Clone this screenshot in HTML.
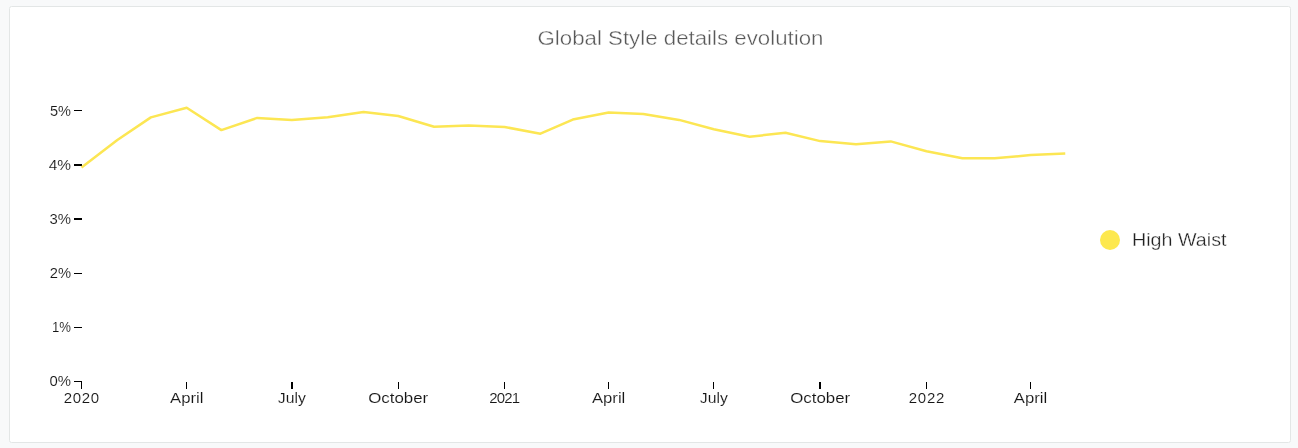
<!DOCTYPE html>
<html><head><meta charset="utf-8"><style>
html,body{margin:0;padding:0;background:#f8f9fa;width:1298px;height:448px;overflow:hidden}
svg{display:block;will-change:transform;font-family:"Liberation Sans",sans-serif}
</style></head><body>
<svg width="1298" height="448" viewBox="0 0 1298 448">
<rect x="9.5" y="6.5" width="1281" height="436" rx="2" ry="2" fill="#ffffff" stroke="#e3e6e6" stroke-width="1"/>
<text x="680.5" y="45" text-anchor="middle" font-size="20" fill="#585858" stroke="#fff" stroke-width="0.35" textLength="286" lengthAdjust="spacingAndGlyphs">Global Style details evolution</text>
<rect x="74" y="381" width="8" height="1" fill="#000"/>
<text x="71" y="385.5" text-anchor="end" font-size="15" fill="#151515" stroke="#fff" stroke-width="0.12" textLength="21.5" lengthAdjust="spacingAndGlyphs">0%</text>
<rect x="74" y="327" width="8" height="1" fill="#000"/>
<text x="71" y="331.5" text-anchor="end" font-size="15" fill="#151515" stroke="#fff" stroke-width="0.12" textLength="19" lengthAdjust="spacingAndGlyphs">1%</text>
<rect x="74" y="273" width="8" height="1" fill="#000"/>
<text x="71" y="277.5" text-anchor="end" font-size="15" fill="#151515" stroke="#fff" stroke-width="0.12" textLength="21.3" lengthAdjust="spacingAndGlyphs">2%</text>
<rect x="74" y="218" width="8" height="2" fill="#000"/>
<text x="71" y="223.5" text-anchor="end" font-size="15" fill="#151515" stroke="#fff" stroke-width="0.12" textLength="21.5" lengthAdjust="spacingAndGlyphs">3%</text>
<rect x="74" y="164" width="8" height="2" fill="#000"/>
<text x="71" y="169.5" text-anchor="end" font-size="15" fill="#151515" stroke="#fff" stroke-width="0.12" textLength="22.3" lengthAdjust="spacingAndGlyphs">4%</text>
<rect x="74" y="110" width="8" height="1" fill="#000"/>
<text x="71" y="115.5" text-anchor="end" font-size="15" fill="#151515" stroke="#fff" stroke-width="0.12" textLength="21" lengthAdjust="spacingAndGlyphs">5%</text>
<rect x="81" y="382" width="1" height="7" fill="#000"/>
<text x="81.50" y="403" text-anchor="middle" font-size="15" fill="#151515" stroke="#fff" stroke-width="0.12" textLength="35.4" lengthAdjust="spacing">2020</text>
<rect x="186" y="382" width="1" height="7" fill="#000"/>
<text x="186.70" y="403" text-anchor="middle" font-size="15" fill="#151515" stroke="#fff" stroke-width="0.12" textLength="33.4" lengthAdjust="spacingAndGlyphs">April</text>
<rect x="291" y="382" width="2" height="7" fill="#000"/>
<text x="291.89" y="403" text-anchor="middle" font-size="15" fill="#151515" stroke="#fff" stroke-width="0.12" textLength="28" lengthAdjust="spacingAndGlyphs">July</text>
<rect x="398" y="382" width="1" height="7" fill="#000"/>
<text x="398.24" y="403" text-anchor="middle" font-size="15" fill="#151515" stroke="#fff" stroke-width="0.12" textLength="60" lengthAdjust="spacingAndGlyphs">October</text>
<rect x="504" y="382" width="1" height="7" fill="#000"/>
<text x="504.60" y="403" text-anchor="middle" font-size="15" fill="#151515" stroke="#fff" stroke-width="0.12" textLength="30.8" lengthAdjust="spacing">2021</text>
<rect x="608" y="382" width="1" height="7" fill="#000"/>
<text x="608.64" y="403" text-anchor="middle" font-size="15" fill="#151515" stroke="#fff" stroke-width="0.12" textLength="33.4" lengthAdjust="spacingAndGlyphs">April</text>
<rect x="713" y="382" width="1" height="7" fill="#000"/>
<text x="713.83" y="403" text-anchor="middle" font-size="15" fill="#151515" stroke="#fff" stroke-width="0.12" textLength="28" lengthAdjust="spacingAndGlyphs">July</text>
<rect x="819" y="382" width="2" height="7" fill="#000"/>
<text x="820.18" y="403" text-anchor="middle" font-size="15" fill="#151515" stroke="#fff" stroke-width="0.12" textLength="60" lengthAdjust="spacingAndGlyphs">October</text>
<rect x="926" y="382" width="1" height="7" fill="#000"/>
<text x="926.54" y="403" text-anchor="middle" font-size="15" fill="#151515" stroke="#fff" stroke-width="0.12" textLength="35.4" lengthAdjust="spacing">2022</text>
<rect x="1030" y="382" width="1" height="7" fill="#000"/>
<text x="1030.58" y="403" text-anchor="middle" font-size="15" fill="#151515" stroke="#fff" stroke-width="0.12" textLength="33.4" lengthAdjust="spacingAndGlyphs">April</text>
<path d="M81.50,167.40L117.34,140.00L150.86,117.40L186.70,107.70L221.38,130.10L257.21,117.90L291.89,119.90L327.73,117.30L363.56,112.10L398.24,116.00L434.08,126.70L468.76,125.40L504.60,127.00L540.43,133.70L572.80,119.60L608.64,112.60L643.32,114.00L679.15,119.90L713.83,129.30L749.67,136.70L785.50,132.80L820.18,141.10L856.02,144.20L890.70,141.40L926.54,151.20L962.37,158.30L994.74,158.30L1030.58,155.10L1065.26,153.60" fill="none" stroke="#fce653" stroke-width="2.5" stroke-linejoin="round"/>
<circle cx="1110" cy="240" r="10" fill="#fde84e"/>
<text x="1132" y="246.3" font-size="17.5" fill="#222" stroke="#fff" stroke-width="0.3" textLength="94.5" lengthAdjust="spacingAndGlyphs">High Waist</text>
</svg>
</body></html>
